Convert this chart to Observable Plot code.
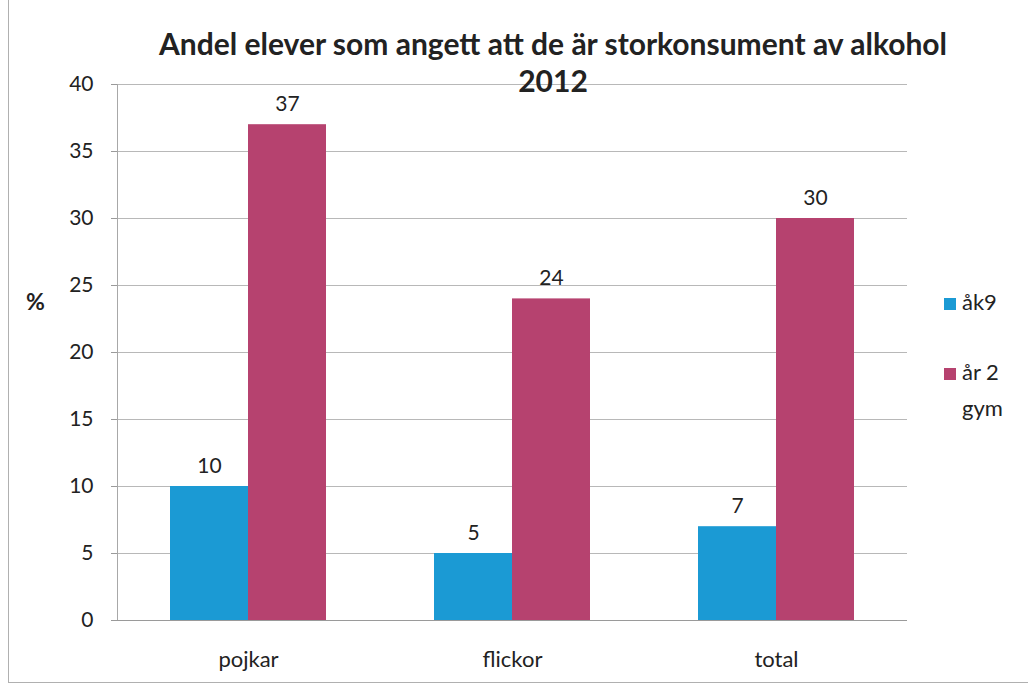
<!DOCTYPE html>
<html><head><meta charset="utf-8">
<script src="https://cdn.jsdelivr.net/npm/d3@7"></script>
<script src="https://cdn.jsdelivr.net/npm/@observablehq/plot@0.6"></script>
<style>
body{margin:0;background:#fff;}
#wrap{position:relative;width:1028px;height:685px;overflow:hidden;font-family:Lato,"Open Sans",sans-serif;color:#222;}
#wrap svg{position:absolute;left:0;top:0;}
#border{position:absolute;left:8px;top:-2px;width:1030px;height:684px;border-left:1.5px solid #b0b0b0;border-bottom:1.5px solid #b0b0b0;}
#title{position:absolute;left:100px;width:906px;top:25px;text-align:center;font-weight:bold;font-size:30px;line-height:37px;color:#222;}
#ylab{position:absolute;left:26px;top:287px;font-weight:bold;font-size:23px;}
.leg{position:absolute;left:944px;font-size:22px;line-height:36px;}
.sw{display:inline-block;width:12px;height:12px;margin-right:6px;vertical-align:0px;}
</style>
</head><body>
<div id="wrap">
  <div id="border"></div>
  <div id="bg"></div>
  <div id="fg"></div>
  <div id="title">Andel elever som angett att de är storkonsument av alkohol<br>2012</div>
  <div id="ylab">%</div>
  <div id="legend"></div>
</div>
<script>
const categories = ["pojkar", "flickor", "total"];
const seriesNames = ["åk9", "år 2 gym"];
const ak9 = [10, 5, 7];
const ar2gym = [37, 24, 30];
const yTicks = [0, 5, 10, 15, 20, 25, 30, 35, 40];
const colors = ["#1b9ad4", "#b6426f"];

const data = [];
categories.forEach((c, i) => {
  data.push({cat: c, series: seriesNames[0], value: ak9[i]});
  data.push({cat: c, series: seriesNames[1], value: ar2gym[i]});
});

const common = {
  width: 1028, height: 685,
  marginLeft: 117, marginRight: 121, marginTop: 84, marginBottom: 65,
  style: {fontFamily: "Lato, 'Open Sans', sans-serif", fontSize: "20px", color: "#222", background: "transparent"}
};

const bg = Plot.plot({
  ...common,
  x: {domain: [0, 1], axis: null},
  y: {domain: [0, 40], axis: null},
  marks: [
    Plot.gridY(yTicks, {stroke: "#b8b8b8", strokeOpacity: 1}),
    Plot.axisY(yTicks, {tickSize: 6, tickPadding: 18, label: null, fontSize: 21, stroke: "#9a9a9a", fill: "#222"}),
    Plot.ruleX([0], {stroke: "#a8a8a8"}),
    Plot.ruleY([0], {stroke: "#9a9a9a"})
  ]
});
document.getElementById("bg").appendChild(bg);

const fg = Plot.plot({
  ...common,
  fx: {domain: categories, paddingInner: 0.41, paddingOuter: 0.2, axis: null},
  x: {domain: seriesNames, padding: 0, axis: null},
  y: {domain: [0, 40], axis: null},
  color: {domain: seriesNames, range: colors},
  marks: [
    Plot.barY(data, {fx: "cat", x: "series", y: "value", fill: "series"}),
    Plot.text(data, {fx: "cat", x: "series", y: "value", text: d => String(d.value), lineAnchor: "bottom", dy: -14, fontSize: 21, fill: "#222"}),
    Plot.axisFx({anchor: "bottom", tickSize: 0, tickPadding: 31, label: null, fontSize: 22, fill: "#222"})
  ]
});
document.getElementById("fg").appendChild(fg);

const legend = document.getElementById("legend");
const legTops = [284, 354];
const legLabels = [["åk9"], ["år 2", "gym"]];
seriesNames.forEach((s, i) => {
  const d = document.createElement("div");
  d.className = "leg";
  d.style.top = legTops[i] + "px";
  const lines = legLabels[i];
  d.innerHTML = `<span class="sw" style="background:${colors[i]}"></span>${lines[0]}` +
    (lines[1] ? `<br><span style="margin-left:18px">${lines[1]}</span>` : "");
  legend.appendChild(d);
});
</script>
</body></html>
